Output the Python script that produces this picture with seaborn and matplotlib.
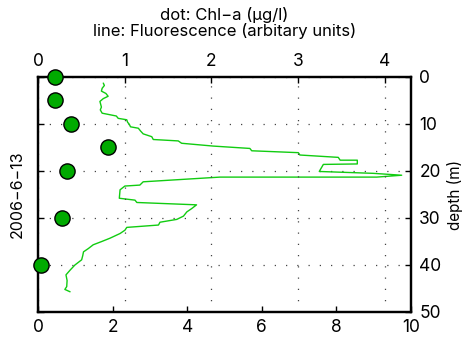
import matplotlib
matplotlib.use("Agg")
import matplotlib.pyplot as plt
import seaborn as sns
import pandas as pd

# Fluorescence profile (arbitrary units) against depth (m)
profile_depth = [1.3, 1.8, 2.4, 3.0, 3.5, 4.1, 4.6, 5.2, 5.8, 6.4, 7.0, 7.7,
                 8.3, 8.8, 9.1, 9.6, 10.1, 10.6, 10.9, 11.5, 12.1, 12.7, 13.3,
                 13.6, 14.1, 14.7, 15.2, 15.7, 16.1, 16.6, 17.1, 17.7, 17.7,
                 18.5, 18.6, 20.1, 20.5, 20.9, 21.3, 21.3, 22.3, 23.0, 23.2,
                 24.0, 25.8, 26.2, 26.7, 27.2, 28.0, 28.7, 29.6, 30.3, 30.9,
                 31.5, 32.0, 32.6, 33.3, 34.3, 35.0, 35.7, 36.5, 37.2, 38.0,
                 38.9, 40.0, 41.1, 42.1, 43.3, 44.6, 45.2, 45.7]
fluorescence = [1.75, 1.78, 1.72, 1.70, 1.82, 1.88, 1.75, 1.66, 1.68, 1.70, 1.67, 1.72,
                2.10, 2.15, 2.38, 2.40, 2.45, 2.48, 2.69, 2.75, 2.82, 3.05, 3.09,
                3.76, 3.85, 4.70, 5.68, 5.73, 6.98, 7.02, 8.05, 8.10, 8.56,
                8.56, 7.65, 7.54, 8.99, 9.75, 9.08, 4.88, 2.82, 2.73, 2.33,
                2.20, 2.18, 2.60, 2.65, 4.25, 4.12, 3.99, 3.90, 3.72, 3.27,
                3.23, 2.38, 2.33, 2.20, 1.93, 1.71, 1.48, 1.35, 1.22, 1.20,
                1.17, 0.99, 0.86, 0.75, 0.78, 0.77, 0.72, 0.86]

# Bottle samples: Chl-a (ug/l) at discrete depths
sample_depth = [0, 5, 10, 15, 20, 30, 40]
chl_a = [0.20, 0.20, 0.38, 0.81, 0.33, 0.28, 0.03]

fluor_ticks = [0, 2, 4, 6, 8, 10]
chl_ticks = [0, 1, 2, 3, 4]
depth_ticks = [0, 10, 20, 30, 40, 50]

sns.set_style("white")
plt.rcParams["font.family"] = ["Inter", "DejaVu Sans"]
plt.rcParams["text.color"] = "black"
plt.rcParams["axes.labelcolor"] = "black"
plt.rcParams["xtick.color"] = "black"
plt.rcParams["ytick.color"] = "black"

fig = plt.figure(figsize=(4.72, 3.47), dpi=100)
ax = fig.add_axes([0.0805, 0.1009, 0.7903, 0.6772])

prof = pd.DataFrame({"depth": profile_depth, "fl": fluorescence})
sns.lineplot(data=prof, x="fl", y="depth", sort=False, estimator=None,
             color="#11cc11", linewidth=1.0, ax=ax)

ax.set_xlim(0, 10)
ax.set_ylim(50, 0)
ax.set_xticks(fluor_ticks)
ax.set_yticks(depth_ticks)
ax.set_xlabel("")
ax.set_ylabel("depth (m)", fontsize=11, labelpad=4)
ax.yaxis.set_label_position("right")
ax.tick_params(axis="x", direction="in", length=4, width=1, top=True, bottom=True,
               labeltop=False, labelbottom=True, labelsize=12.5, pad=5)
ax.tick_params(axis="y", direction="in", length=4, width=1, left=True, right=True,
               labelleft=False, labelright=True, labelsize=12.5, pad=6)
ax.grid(axis="y", color="#444444", linestyle=(0, (1, 8)), linewidth=0.9)
ax.grid(axis="x", visible=False)
for s in ax.spines.values():
    s.set_linewidth(1.6)
    s.set_color("black")

ax2 = ax.twiny()
samples = pd.DataFrame({"depth": sample_depth, "chl": chl_a})
sns.scatterplot(data=samples, x="chl", y="depth", ax=ax2, s=120,
                color="#00aa00", edgecolor="black", linewidth=1.0,
                zorder=5, clip_on=False)
ax2.set_xlim(0, 4.3)
ax2.set_xticks(chl_ticks)
ax2.set_xlabel("")
ax2.set_ylim(50, 0)
ax2.tick_params(axis="x", direction="in", length=4, width=1, top=True, bottom=False,
                labeltop=True, labelbottom=False, labelsize=12.5, pad=5)
ax2.grid(axis="x", color="#444444", linestyle=(0, (1, 8)), linewidth=0.9)
ax2.grid(axis="y", visible=False)
for s in ax2.spines.values():
    s.set_linewidth(1.6)
    s.set_color("black")

fig.text(0.4756, 0.957, "dot: Chl\u2212a (\u00b5g/l)", ha="center", va="center", fontsize=12)
fig.text(0.4756, 0.912, "line: Fluorescence (arbitary units)", ha="center", va="center", fontsize=12)
fig.text(0.036, 0.44, "2006\u22126\u221213", rotation=90, ha="center", va="center", fontsize=11.5)

fig.savefig("out.png", dpi=100)
